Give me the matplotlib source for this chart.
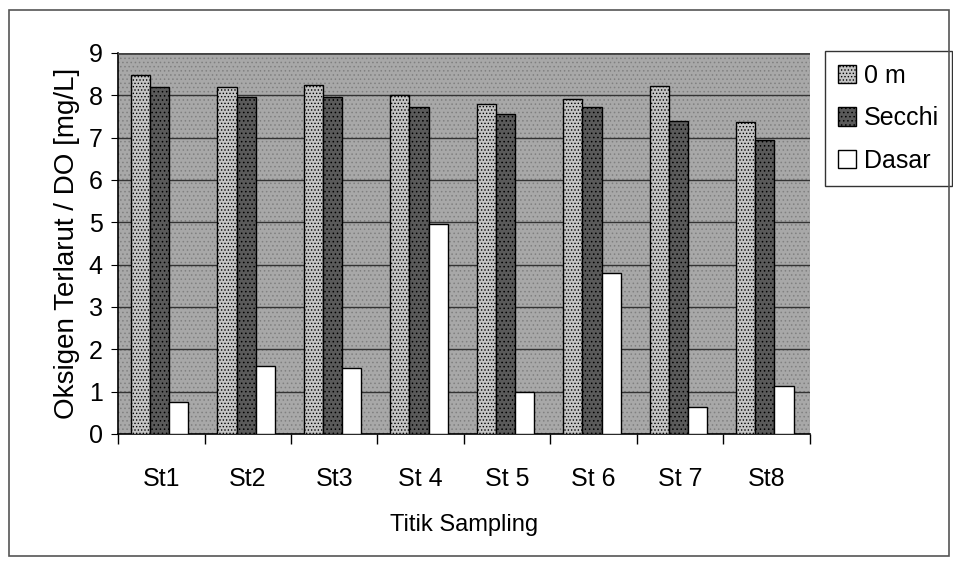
import numpy as np
import matplotlib
matplotlib.use('Agg')
import matplotlib.pyplot as plt
from matplotlib.patches import Rectangle

plt.rcParams['font.family'] = ['Liberation Sans', 'DejaVu Sans']
plt.rcParams['hatch.linewidth'] = 0.6

stations = ['St1', 'St2', 'St3', 'St 4', 'St 5', 'St 6', 'St 7', 'St8']
do_surface = [8.49, 8.2, 8.25, 8.0, 7.8, 7.92, 8.23, 7.38]
do_secchi = [8.2, 7.97, 7.95, 7.73, 7.55, 7.73, 7.4, 6.95]
do_bottom = [0.75, 1.6, 1.55, 4.97, 1.0, 3.8, 0.64, 1.13]
series_names = ['0 m', 'Secchi', 'Dasar']

fig = plt.figure(figsize=(9.54, 5.67), dpi=100)
fig.patches.append(Rectangle((0.009, 0.02), 0.986, 0.962, transform=fig.transFigure,
                             fill=False, edgecolor='#555555', lw=1.2))

ax = fig.add_axes([0.1237, 0.2346, 0.7253, 0.672])
ax.set_facecolor('#a8a8a8')
ax.patch.set_hatch('....')
ax.patch.set_edgecolor('#808080')

x = np.arange(len(stations))
w = 0.22
styles = [dict(color='#c4c4c4', hatch='.....'),
          dict(color='#5a5a5a', hatch='....'),
          dict(color='white', hatch=None)]
for i, (vals, st) in enumerate(zip([do_surface, do_secchi, do_bottom], styles)):
    ax.bar(x - 0.5 + 0.15 + w * i + w / 2, vals, w, facecolor=st['color'],
           edgecolor='black', lw=1.0, hatch=st['hatch'], zorder=3,
           label=series_names[i])

ax.set_xlim(-0.5, len(stations) - 0.5)
ax.set_ylim(0, 9)
ax.set_yticks(range(10))
ax.yaxis.grid(True, color='#333333', lw=1.0, zorder=1)
ax.set_axisbelow(True)

# category separators as major ticks, names as minor tick labels
ax.set_xticks(np.arange(len(stations) + 1) - 0.5)
ax.set_xticklabels([])
ax.set_xticks(x, minor=True)
ax.set_xticklabels(stations, minor=True, fontsize=18)
ax.tick_params(axis='x', which='minor', length=0, pad=24)
ax.tick_params(axis='x', which='major', length=7, width=1, direction='out')
ax.tick_params(axis='y', labelsize=18, length=5, direction='out', pad=6)

for s in ['top', 'right']:
    ax.spines[s].set_visible(False)
ax.spines['left'].set_linewidth(1.2)
ax.spines['bottom'].set_linewidth(1.2)
ax.axhline(9, color='#444444', lw=2.0, zorder=4)

ax.set_ylabel('Oksigen Terlarut / DO [mg/L]', fontsize=20, labelpad=6)
ax.set_xlabel('Titik Sampling', fontsize=17, labelpad=16)

leg = ax.legend(loc='upper left', bbox_to_anchor=(0.865, 0.91), bbox_transform=fig.transFigure,
                fontsize=18, frameon=True, fancybox=False, edgecolor='black',
                handlelength=0.75, handleheight=0.75, handletextpad=0.3,
                borderpad=0.5, labelspacing=0.75, borderaxespad=0)
leg.get_frame().set_linewidth(1.0)

fig.savefig('out.png', dpi=100)
